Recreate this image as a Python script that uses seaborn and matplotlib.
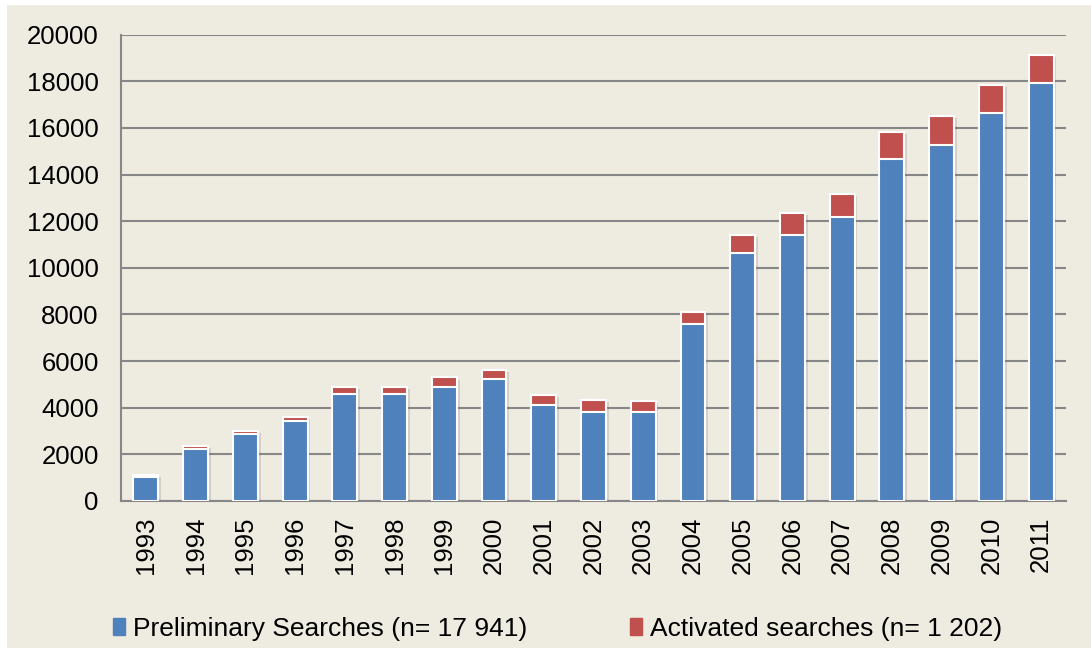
import matplotlib
matplotlib.use('Agg')
import matplotlib.pyplot as plt
import matplotlib.patches as mpatches
import matplotlib.patheffects as pe
import numpy as np
import pandas as pd
import seaborn as sns

years = ['1993', '1994', '1995', '1996', '1997', '1998', '1999', '2000', '2001', '2002',
         '2003', '2004', '2005', '2006', '2007', '2008', '2009', '2010', '2011']
preliminary = [1050, 2230, 2860, 3430, 4590, 4590, 4900, 5220, 4100, 3830,
               3800, 7590, 10620, 11430, 12190, 14650, 15270, 16630, 17941]
activated = [60, 130, 160, 190, 320, 320, 400, 400, 450, 500,
             480, 530, 780, 910, 960, 1160, 1240, 1220, 1202]

lab_pre = 'Preliminary Searches (n= 17 941)'
lab_act = 'Activated searches (n= 1 202)'

blue = '#4F81BD'
red = '#C0504D'
beige = '#EEEBE0'
grid_col = '#878787'

df = pd.DataFrame({'year': years, 'pre': preliminary, 'act': activated})
df['total'] = df['pre'] + df['act']

sns.set_style('white')
plt.rcParams['font.family'] = ['Liberation Sans', 'DejaVu Sans']
plt.rcParams['text.color'] = 'black'
plt.rcParams['xtick.color'] = 'black'
plt.rcParams['ytick.color'] = 'black'

fig = plt.figure(figsize=(10.91, 6.52), dpi=100)
fig.patch.set_facecolor('white')
# beige panel behind everything
fig.patches.append(mpatches.Rectangle((7 / 1091, 4 / 652), 1 - 7 / 1091, 1 - 9 / 652,
                                      transform=fig.transFigure, facecolor=beige,
                                      edgecolor='none', zorder=-10))

ax = fig.add_axes([121 / 1091, 1 - 501 / 652, (1066 - 121) / 1091, (501 - 34.7) / 652])
ax.set_facecolor('none')

sns.barplot(data=df, x='year', y='total', color=red, width=0.5, saturation=1,
            edgecolor='white', linewidth=1.5, ax=ax, zorder=3)
sns.barplot(data=df, x='year', y='pre', color=blue, width=0.5, saturation=1,
            edgecolor='white', linewidth=1.5, ax=ax, zorder=4)

# soft drop shadow like the office chart
shadow = [pe.SimplePatchShadow(offset=(2, -1.5), shadow_rgbFace='#555555', alpha=0.18), pe.Normal()]
for i, p in enumerate(ax.patches):
    if i < len(years):
        p.set_path_effects(shadow)

ax.set_ylim(0, 20000)
ax.set_xlim(-0.5, len(years) - 0.5)
ax.set_yticks(np.arange(0, 20001, 2000))
ax.yaxis.grid(True, color=grid_col, linewidth=1.5, zorder=1)
ax.set_axisbelow(True)
ax.set_xlabel('')
ax.set_ylabel('')

for s in ['top', 'right']:
    ax.spines[s].set_visible(False)
for s in ['left', 'bottom']:
    ax.spines[s].set_color(grid_col)
    ax.spines[s].set_linewidth(1.5)

ax.set_xticks(np.arange(-0.5, len(years), 1.0), minor=True)
ax.tick_params(axis='x', which='major', length=0, labelsize=18.5, labelrotation=90, pad=11)
ax.tick_params(axis='x', which='minor', length=6, width=1.5, color=grid_col)
ax.tick_params(axis='y', length=6, width=1.5, color=grid_col, labelsize=18.5, pad=10)

handles = [mpatches.Patch(color=blue, label=lab_pre), mpatches.Patch(color=red, label=lab_act)]
fig.legend(handles=handles, loc='center', bbox_to_anchor=(0.511, 1 - 629 / 652), ncol=2,
           frameon=False, fontsize=19, handlelength=0.45, handleheight=0.6,
           handletextpad=0.3, columnspacing=3.9)

fig.savefig('out.png', dpi=100, facecolor=fig.get_facecolor())
